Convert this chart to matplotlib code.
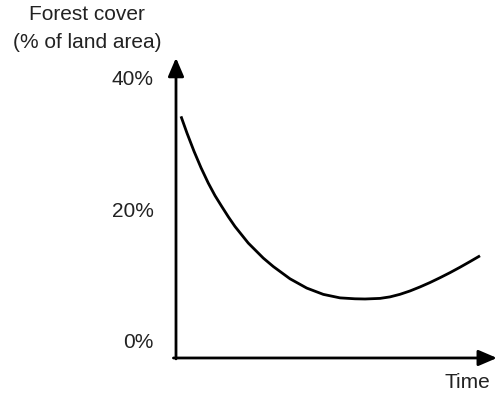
import matplotlib.pyplot as plt

# forest transition curve
time = [1.56, 3.43, 5.61, 7.79, 10.06, 12.15, 14.24, 16.32, 18.38, 22.52,
        27.20, 30.31, 35.51, 40.72, 45.89, 51.09, 55.76, 58.88, 63.55, 66.67,
        69.78, 72.90, 76.01, 79.13, 82.24, 85.36, 88.47, 91.59, 94.70]
cover = [34.11, 31.56, 28.81, 26.31, 23.97, 22.07, 20.43, 18.84, 17.38, 14.86,
         12.58, 11.30, 9.44, 8.03, 7.07, 6.54, 6.40, 6.37, 6.46, 6.69,
         7.08, 7.59, 8.20, 8.87, 9.60, 10.37, 11.19, 12.05, 12.93]

yticks = [0, 20, 40]
ylabels = ['0%', '20%', '40%']

plt.rcParams['font.family'] = ['Liberation Sans', 'DejaVu Sans']
txt = '#222222'

fig = plt.figure(figsize=(4.99, 3.96), dpi=100)
ax = fig.add_axes([0.3527, 0.096, 0.6433, 0.758])
ax.set_xlim(0, 100)
ax.set_ylim(-2.59, 43.0)

ax.plot(time, cover, color='black', lw=2, solid_capstyle='butt',
        solid_joinstyle='round')

for s in ax.spines.values():
    s.set_visible(False)

# arrow axes
head = '-|>,head_length=0.7,head_width=0.3'
ax.annotate('', xy=(0, 1), xytext=(0, -0.003), xycoords='axes fraction',
            arrowprops=dict(arrowstyle=head, color='black', lw=2,
                            mutation_scale=16, shrinkA=0, shrinkB=0))
ax.annotate('', xy=(1, 0), xytext=(-0.008, 0), xycoords='axes fraction',
            arrowprops=dict(arrowstyle=head, color='black', lw=2,
                            mutation_scale=16, shrinkA=0, shrinkB=0))

ax.set_xticks([])
ax.set_yticks(yticks)
ax.set_yticklabels(ylabels, fontsize=15, color=txt)
ax.tick_params(axis='y', length=0, pad=16)

fig.text(87 / 499, 1 - 15 / 396, 'Forest cover', ha='center', va='center',
         fontsize=15, color=txt)
fig.text(87 / 499, 1 - 42 / 396, '(% of land area)', ha='center', va='center',
         fontsize=15, color=txt)
fig.text(490 / 499, 1 - 383 / 396, 'Time', ha='right', va='center',
         fontsize=15, color=txt)

fig.savefig('out.png', dpi=100)
